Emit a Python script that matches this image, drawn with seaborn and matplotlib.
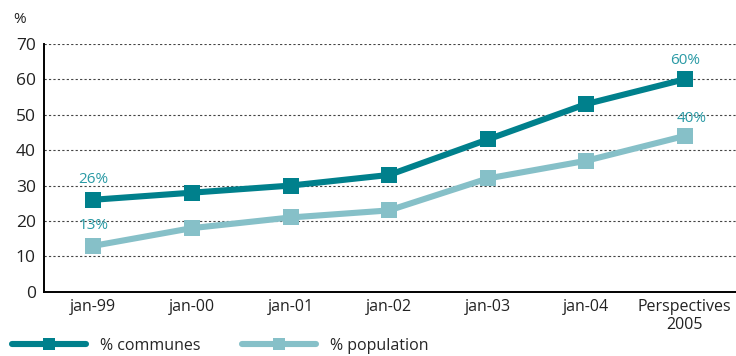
import matplotlib
matplotlib.use('Agg')
import matplotlib.pyplot as plt
import pandas as pd
import seaborn as sns

periods = ['jan-99', 'jan-00', 'jan-01', 'jan-02', 'jan-03', 'jan-04', 'Perspectives\n2005']
communes = [26, 28, 30, 33, 43, 53, 60]
population = [13, 18, 21, 23, 32, 37, 44]
series_names = ['% communes', '% population']
yticks = [0, 10, 20, 30, 40, 50, 60, 70]

dark = '#00808c'
light = '#86c0c8'
label_col = '#2a9aa5'

df = pd.DataFrame({
    'period': periods * 2,
    'value': communes + population,
    'serie': [series_names[0]] * len(periods) + [series_names[1]] * len(periods),
})

sns.set_style('white')
plt.rcParams['font.family'] = ['Open Sans', 'DejaVu Sans']

fig = plt.figure(figsize=(7.36, 3.56), dpi=100)
ax = fig.add_axes([0.06, 0.18, 0.94, 0.697])

sns.lineplot(data=df, x='period', y='value', hue='serie', style='serie',
             markers={series_names[0]: 's', series_names[1]: 's'},
             dashes=False, palette={series_names[0]: dark, series_names[1]: light},
             linewidth=4.4, markersize=11, markeredgewidth=0, ax=ax, sort=False)

ax.set_ylim(0, 70)
ax.set_xlim(-0.5, 6.52)
ax.set_yticks(yticks)
ax.set_xlabel('')
ax.set_ylabel('')
for y in yticks[1:]:
    ax.axhline(y, color='#444444', lw=0.8, ls=(0, (2, 2)), zorder=0)

ax.set_xticks(range(len(periods)))
ax.set_xticklabels(periods)
ax.tick_params(axis='x', length=0, labelsize=11.5, pad=5)
ax.tick_params(axis='y', length=17, direction='in', width=1.4, labelsize=12.5, pad=6, color='black')
for lbl in ax.get_yticklabels() + ax.get_xticklabels():
    lbl.set_color('#222222')
# tick marks between categories
ax.set_xticks([i + 0.5 for i in range(len(periods) - 1)], minor=True)
ax.tick_params(axis='x', which='minor', length=5, width=1.4, direction='in', color='black')

sns.despine(ax=ax, top=True, right=True)
for side in ['left', 'bottom']:
    ax.spines[side].set_linewidth(1.4)
    ax.spines[side].set_color('black')

ax.annotate('26%', (0, communes[0]), xytext=(0, 9), textcoords='offset points',
            ha='center', va='bottom', color=label_col, fontsize=11)
ax.annotate('13%', (0, population[0]), xytext=(0, 9), textcoords='offset points',
            ha='center', va='bottom', color=label_col, fontsize=11)
ax.annotate('60%', (6, communes[6]), xytext=(0, 8), textcoords='offset points',
            ha='center', va='bottom', color=label_col, fontsize=11)
ax.annotate('40%', (6, population[6]), xytext=(5, 7), textcoords='offset points',
            ha='center', va='bottom', color=label_col, fontsize=11)

fig.text(0.027, 0.935, '%', fontsize=11, color='#222222', ha='center')

handles, labels = ax.get_legend_handles_labels()
ax.legend_.remove()
fig.legend(handles, labels, loc='lower left', bbox_to_anchor=(-0.003, -0.035), ncol=2,
           frameon=False, fontsize=11.5, handlelength=4.6, columnspacing=2.6,
           handletextpad=0.9, markerscale=0.8)

fig.savefig('out.png', dpi=100)
